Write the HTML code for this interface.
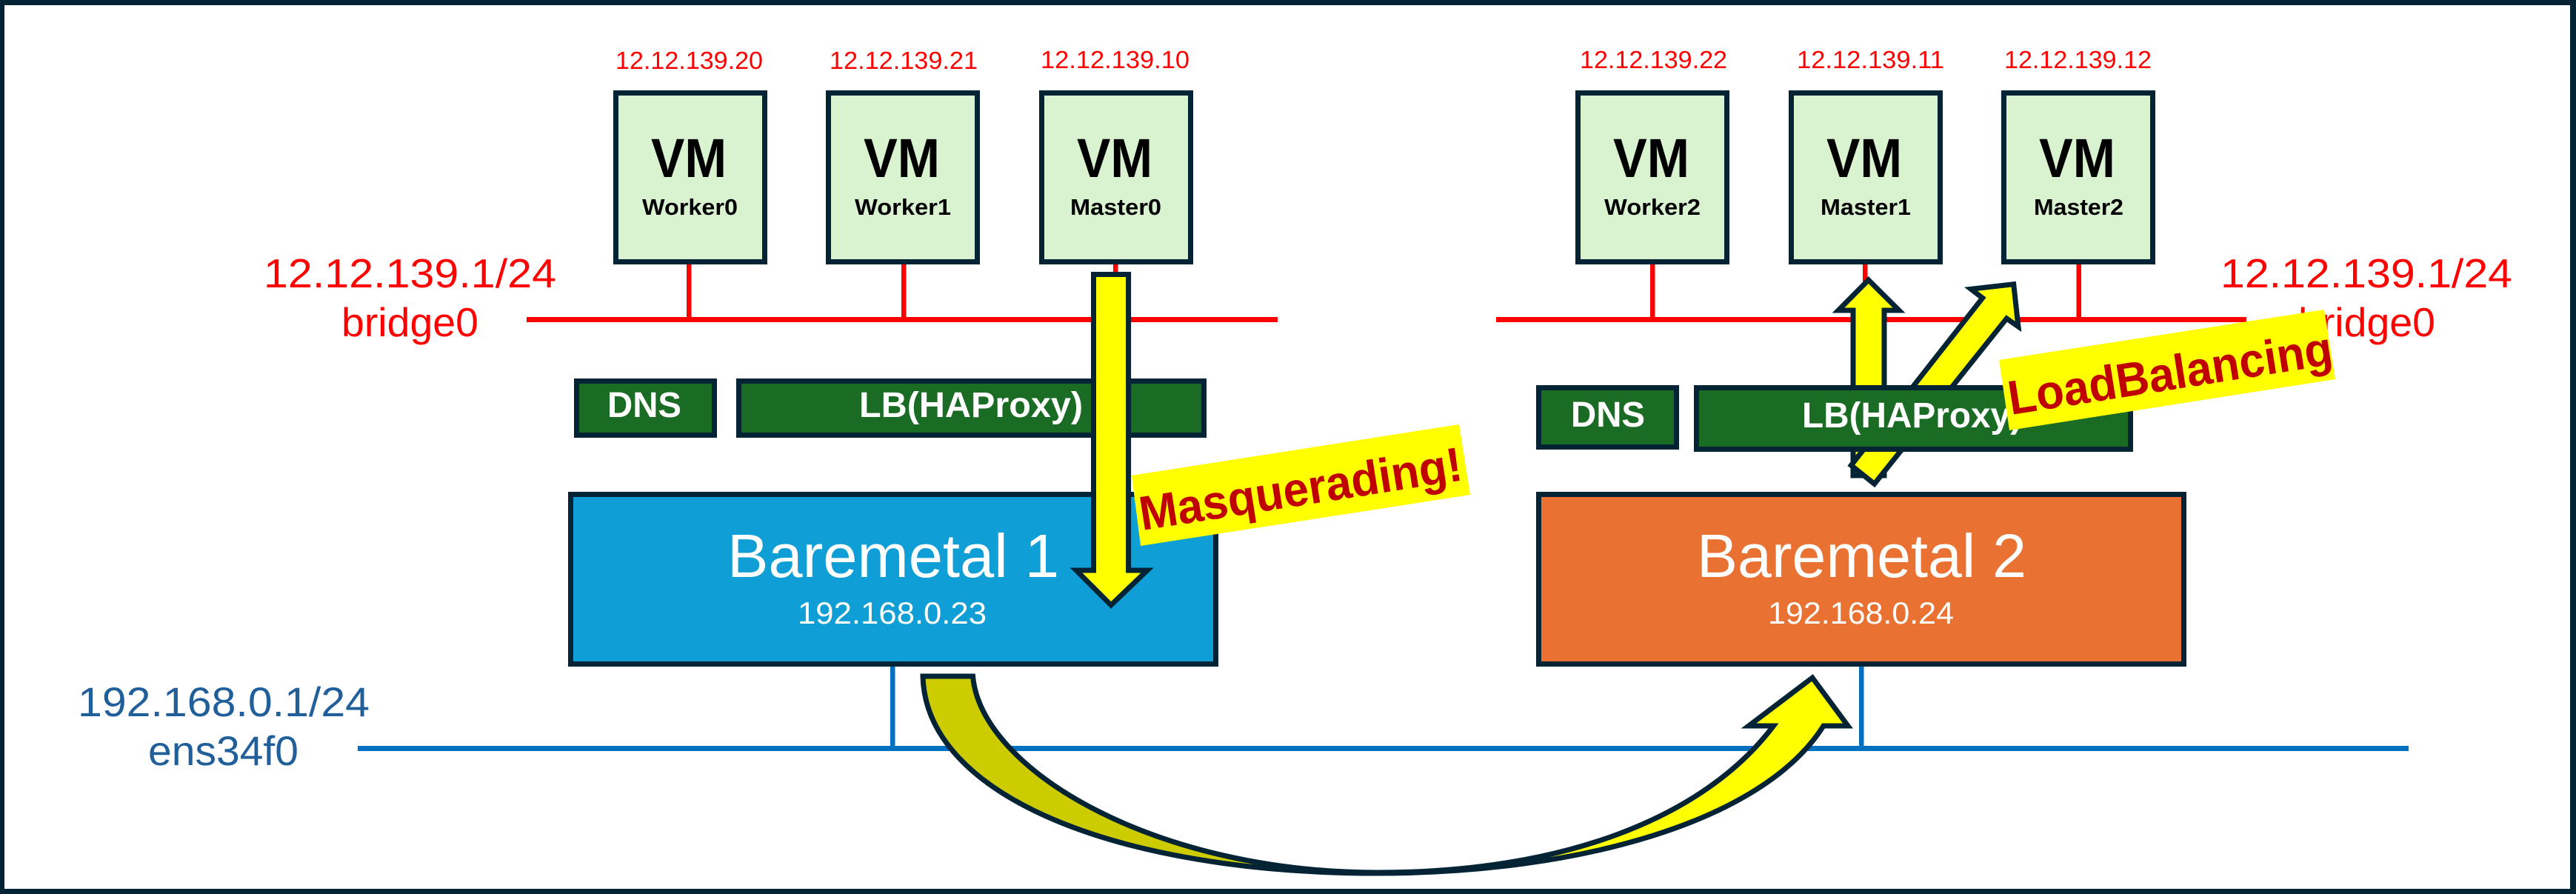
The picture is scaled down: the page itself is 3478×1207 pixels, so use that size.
<!DOCTYPE html>
<html>
<head>
<meta charset="utf-8">
<style>
html,body{margin:0;padding:0;background:#fff;width:3478px;height:1207px;overflow:hidden}
svg{display:block}
text{font-family:"Liberation Sans",sans-serif}
.ip{font-size:33px;fill:#ff0000}
.big{font-size:55px;fill:#ff0000}
.blue{font-size:56px;fill:#215f9a}
.vm{font-size:74px;font-weight:bold;fill:#000}
.nm{font-size:31px;font-weight:bold;fill:#000}
.gr{font-size:48px;font-weight:bold;fill:#fff}
.bm{font-size:83px;fill:#fff}
.bi{font-size:42px;fill:#fff}
.lab{font-size:65px;font-weight:bold;fill:#c00000}
.s{stroke:#042436;stroke-width:7;stroke-miterlimit:20}
</style>
</head>
<body>
<svg xmlns="http://www.w3.org/2000/svg" width="3478" height="1207" viewBox="0 0 3478 1207">
<defs>
<linearGradient id="cg" gradientUnits="userSpaceOnUse" x1="1246" y1="0" x2="2500" y2="0">
<stop offset="0.494" stop-color="#cccc00"/><stop offset="0.494" stop-color="#ffff00"/>
</linearGradient>
</defs>
<rect width="3478" height="1207" fill="#042436"/>
<rect x="6" y="7" width="3464" height="1193" fill="#ffffff"/>

<!-- blue network -->
<rect x="483" y="1007" width="2769" height="7" fill="#0070c0"/>
<rect x="1202" y="900" width="6.5" height="107" fill="#0070c0"/>
<rect x="2510" y="900" width="6.5" height="107" fill="#0070c0"/>

<!-- red lines -->
<rect x="711" y="428" width="1014" height="7" fill="#ff0000"/>
<rect x="2020" y="428" width="1013" height="7" fill="#ff0000"/>
<rect x="927" y="356" width="6.5" height="72" fill="#ff0000"/>
<rect x="1217" y="356" width="6.5" height="72" fill="#ff0000"/>
<rect x="1503" y="356" width="6.5" height="72" fill="#ff0000"/>
<rect x="2228" y="356" width="6.5" height="72" fill="#ff0000"/>
<rect x="2515" y="356" width="6.5" height="72" fill="#ff0000"/>
<rect x="2803.5" y="356" width="6.5" height="72" fill="#ff0000"/>

<!-- VM boxes -->
<g fill="#d9f2d0" class="s">
<rect x="831.5" y="125.5" width="201" height="228"/>
<rect x="1118.5" y="125.5" width="201" height="228"/>
<rect x="1406.5" y="125.5" width="201" height="228"/>
<rect x="2130.5" y="125.5" width="201" height="228"/>
<rect x="2418.5" y="125.5" width="201" height="228"/>
<rect x="2705.5" y="125.5" width="201" height="228"/>
</g>

<!-- IP labels -->
<text class="ip" x="831" y="93" textLength="199" lengthAdjust="spacingAndGlyphs">12.12.139.20</text>
<text class="ip" x="1120" y="93" textLength="200" lengthAdjust="spacingAndGlyphs">12.12.139.21</text>
<text class="ip" x="1405" y="92" textLength="201" lengthAdjust="spacingAndGlyphs">12.12.139.10</text>
<text class="ip" x="2133" y="92" textLength="199" lengthAdjust="spacingAndGlyphs">12.12.139.22</text>
<text class="ip" x="2426" y="92" textLength="199" lengthAdjust="spacingAndGlyphs">12.12.139.11</text>
<text class="ip" x="2706" y="92" textLength="199" lengthAdjust="spacingAndGlyphs">12.12.139.12</text>

<!-- VM text -->
<text class="vm" x="879" y="239" textLength="102" lengthAdjust="spacingAndGlyphs">VM</text>
<text class="vm" x="1166" y="239" textLength="103" lengthAdjust="spacingAndGlyphs">VM</text>
<text class="vm" x="1454" y="239" textLength="102" lengthAdjust="spacingAndGlyphs">VM</text>
<text class="vm" x="2178" y="239" textLength="103" lengthAdjust="spacingAndGlyphs">VM</text>
<text class="vm" x="2466" y="239" textLength="102" lengthAdjust="spacingAndGlyphs">VM</text>
<text class="vm" x="2753" y="239" textLength="103" lengthAdjust="spacingAndGlyphs">VM</text>
<text class="nm" x="867" y="290" textLength="129" lengthAdjust="spacingAndGlyphs">Worker0</text>
<text class="nm" x="1154" y="290" textLength="130" lengthAdjust="spacingAndGlyphs">Worker1</text>
<text class="nm" x="1445" y="290" textLength="123" lengthAdjust="spacingAndGlyphs">Master0</text>
<text class="nm" x="2166" y="290" textLength="130" lengthAdjust="spacingAndGlyphs">Worker2</text>
<text class="nm" x="2458" y="290" textLength="122" lengthAdjust="spacingAndGlyphs">Master1</text>
<text class="nm" x="2746" y="290" textLength="121" lengthAdjust="spacingAndGlyphs">Master2</text>

<!-- network labels -->
<text class="big" x="356" y="388" textLength="395" lengthAdjust="spacingAndGlyphs">12.12.139.1/24</text>
<text class="big" x="461" y="454" textLength="185" lengthAdjust="spacingAndGlyphs">bridge0</text>
<text class="big" x="2998" y="388" textLength="394" lengthAdjust="spacingAndGlyphs">12.12.139.1/24</text>
<text class="big" x="3103" y="454" textLength="185" lengthAdjust="spacingAndGlyphs">bridge0</text>
<text class="blue" x="105" y="967" textLength="394" lengthAdjust="spacingAndGlyphs">192.168.0.1/24</text>
<text class="blue" x="200" y="1033" textLength="203" lengthAdjust="spacingAndGlyphs">ens34f0</text>

<!-- right arrows behind LB -->
<path class="s" fill="#ffff00" d="M2502,642 L2502,419 L2482,419 L2522.7,378 L2564,419 L2544,419 L2544,642 Z"/>
<path class="s" fill="#ffff00" d="M2676.7,402.3 L2661,390.3 L2718.7,383.7 L2725,441 L2709.3,430 L2530.7,653.3 L2499.3,628.3 Z"/>

<!-- service boxes -->
<g fill="#1a6b24" class="s">
<rect x="778.5" y="514.5" width="186" height="73"/>
<rect x="997.5" y="514.5" width="628" height="73"/>
<rect x="2077.5" y="523.5" width="186" height="80"/>
<rect x="2290.5" y="523.5" width="586" height="83"/>
</g>
<text class="gr" x="820" y="563" textLength="100" lengthAdjust="spacingAndGlyphs">DNS</text>
<text class="gr" x="1160" y="563" textLength="302" lengthAdjust="spacingAndGlyphs">LB(HAProxy)</text>
<text class="gr" x="2121" y="576" textLength="100" lengthAdjust="spacingAndGlyphs">DNS</text>
<text class="gr" x="2433" y="577" textLength="297" lengthAdjust="spacingAndGlyphs">LB(HAProxy)</text>

<!-- baremetal -->
<rect class="s" x="770.5" y="667.5" width="871" height="229" fill="#0f9ed5"/>
<rect class="s" x="2077.5" y="667.5" width="871" height="229" fill="#e97132"/>
<text class="bm" x="982" y="779" textLength="448" lengthAdjust="spacingAndGlyphs">Baremetal 1</text>
<text class="bi" x="1077" y="842" textLength="255" lengthAdjust="spacingAndGlyphs">192.168.0.23</text>
<text class="bm" x="2291" y="779" textLength="445" lengthAdjust="spacingAndGlyphs">Baremetal 2</text>
<text class="bi" x="2387" y="842" textLength="251" lengthAdjust="spacingAndGlyphs">192.168.0.24</text>

<!-- down arrow -->
<path class="s" fill="#ffff00" d="M1476.5,370.5 L1523.6,370.5 L1523.6,770 L1549,770 L1500,817 L1453,770 L1476.5,770 Z"/>

<!-- curved arrow -->
<path class="s" fill="url(#cg)" d="M1246,913 C1250,1075 1510,1179 1860,1179 C2130,1179 2380,1110 2462,980 L2495,980 L2447,915 L2361,980 L2394.5,980 C2300,1105 2110,1178 1860,1178 C1560,1178 1325,1040 1313.5,913 Z"/>

<!-- labels -->
<polygon points="1528,642 1970,573 1985,668 1540,737" fill="#ffff00"/>
<text class="lab" transform="translate(1542,716) rotate(-8.9)" textLength="440" lengthAdjust="spacingAndGlyphs">Masquerading!</text>
<polygon points="2699,486 3138,418 3153,512 2713,581" fill="#ffff00"/>
<text class="lab" transform="translate(2715,560) rotate(-8.9)" textLength="442" lengthAdjust="spacingAndGlyphs">LoadBalancing</text>
</svg>
</body>
</html>
